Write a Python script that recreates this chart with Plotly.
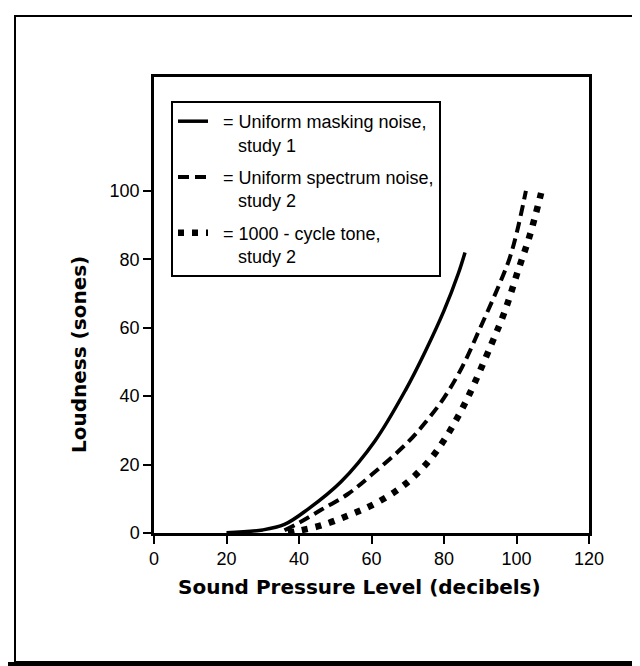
import plotly.graph_objects as go

# Data (dB SPL -> loudness in sones)
solid_x = [20, 30, 36, 42.5, 51.6, 61, 69.5, 74.8, 80, 84, 85.8]
solid_y = [0.1, 0.9, 2.5, 7, 15, 27, 42, 53, 65, 76, 82]

dash_x = [36, 40, 46, 53.5, 60, 70, 75, 80, 85, 90, 95, 98, 100, 102.6]
dash_y = [0.8, 3, 6.7, 11.4, 17, 26.5, 32.5, 39.5, 48.5, 60, 72, 80, 87.5, 100]

dot_x = [37, 39.7, 46.1, 53.5, 59.9, 66.5, 71.4, 76.4, 80.3, 84, 87.2, 93, 96.8, 100.4, 103.7, 106.8]
dot_y = [0, 0.6, 2.2, 5.1, 8, 12.1, 16.2, 21.8, 27.6, 34.3, 41, 55, 64.9, 76.6, 87.1, 99.4]

x_ticks = [0, 20, 40, 60, 80, 100, 120]
y_ticks = [0, 20, 40, 60, 80, 100]

NB = "\u00a0"
names = [
    NB * 2 + "= Uniform masking noise,<br>" + NB * 5 + "study 1",
    NB * 2 + "= Uniform spectrum noise,<br>" + NB * 5 + "study 2",
    NB * 2 + "= 1000 - cycle tone,<br>" + NB * 5 + "study 2",
]

FONT = "Liberation Sans, Arial, Helvetica, sans-serif"
BOLD = "DejaVu Sans, Liberation Sans, Arial, sans-serif"

fig = go.Figure()
fig.add_trace(go.Scatter(x=solid_x, y=solid_y, mode="lines", name=names[0],
                         line=dict(color="black", width=3.5, shape="spline"),
                         legendgroup="a"))
fig.add_trace(go.Scatter(x=dash_x, y=dash_y, mode="lines", name=names[1],
                         line=dict(color="black", width=4, dash="11px,6px", shape="spline"),
                         legendgroup="b"))
fig.add_trace(go.Scatter(x=dot_x, y=dot_y, mode="lines", name=names[2],
                         line=dict(color="black", width=6.5, dash="6px,8px", shape="spline"),
                         legendgroup="c"))

W, H = 640, 666
L, R, T, B = 146, 59, 69, 141
pw, ph = W - L - R, H - T - B


def px(xp):
    return (xp - L) / pw


def py(yp):
    return (H - B - yp) / ph


fig.update_layout(
    width=W, height=H,
    margin=dict(l=L, r=R, t=T, b=B),
    paper_bgcolor="white", plot_bgcolor="white",
    font=dict(family=FONT, color="black", size=18),
    showlegend=True,
    legend=dict(x=px(163), y=py(93), xanchor="left", yanchor="top",
                bordercolor="black", borderwidth=2, bgcolor="white",
                font=dict(size=18, family=FONT), tracegroupgap=6,
                valign="top"),
    xaxis=dict(range=[0, 120], tickvals=x_ticks, ticks="outside", ticklen=8,
               tickwidth=2, tickcolor="black", showline=True, linewidth=2.5,
               linecolor="black", mirror=True, showgrid=False, zeroline=False,
               tickfont=dict(size=18)),
    yaxis=dict(range=[0, 133.3], tickvals=y_ticks, ticks="outside", ticklen=8,
               tickwidth=2, tickcolor="black", showline=True, linewidth=2.5,
               linecolor="black", mirror=True, showgrid=False, zeroline=False,
               tickfont=dict(size=18)),
    annotations=[
        dict(text="<b>Sound Pressure Level (decibels)</b>", xref="paper", yref="paper",
             x=px(351), y=py(579), xanchor="center", yanchor="middle",
             showarrow=False, font=dict(size=20, family=BOLD)),
        dict(text="<b>Loudness (sones)</b>", xref="paper", yref="paper",
             x=px(71), y=py(347), xanchor="center", yanchor="middle",
             textangle=-90, showarrow=False, font=dict(size=20, family=BOLD)),
    ],
    shapes=[
        dict(type="rect", xref="paper", yref="paper",
             x0=px(7), x1=px(650), y0=py(654), y1=py(8),
             line=dict(color="black", width=2), layer="below"),
        dict(type="rect", xref="paper", yref="paper",
             x0=px(-5), x1=px(650), y0=py(672), y1=py(654),
             line=dict(width=0), fillcolor="black"),
    ],
)

fig.write_html("out.html")
